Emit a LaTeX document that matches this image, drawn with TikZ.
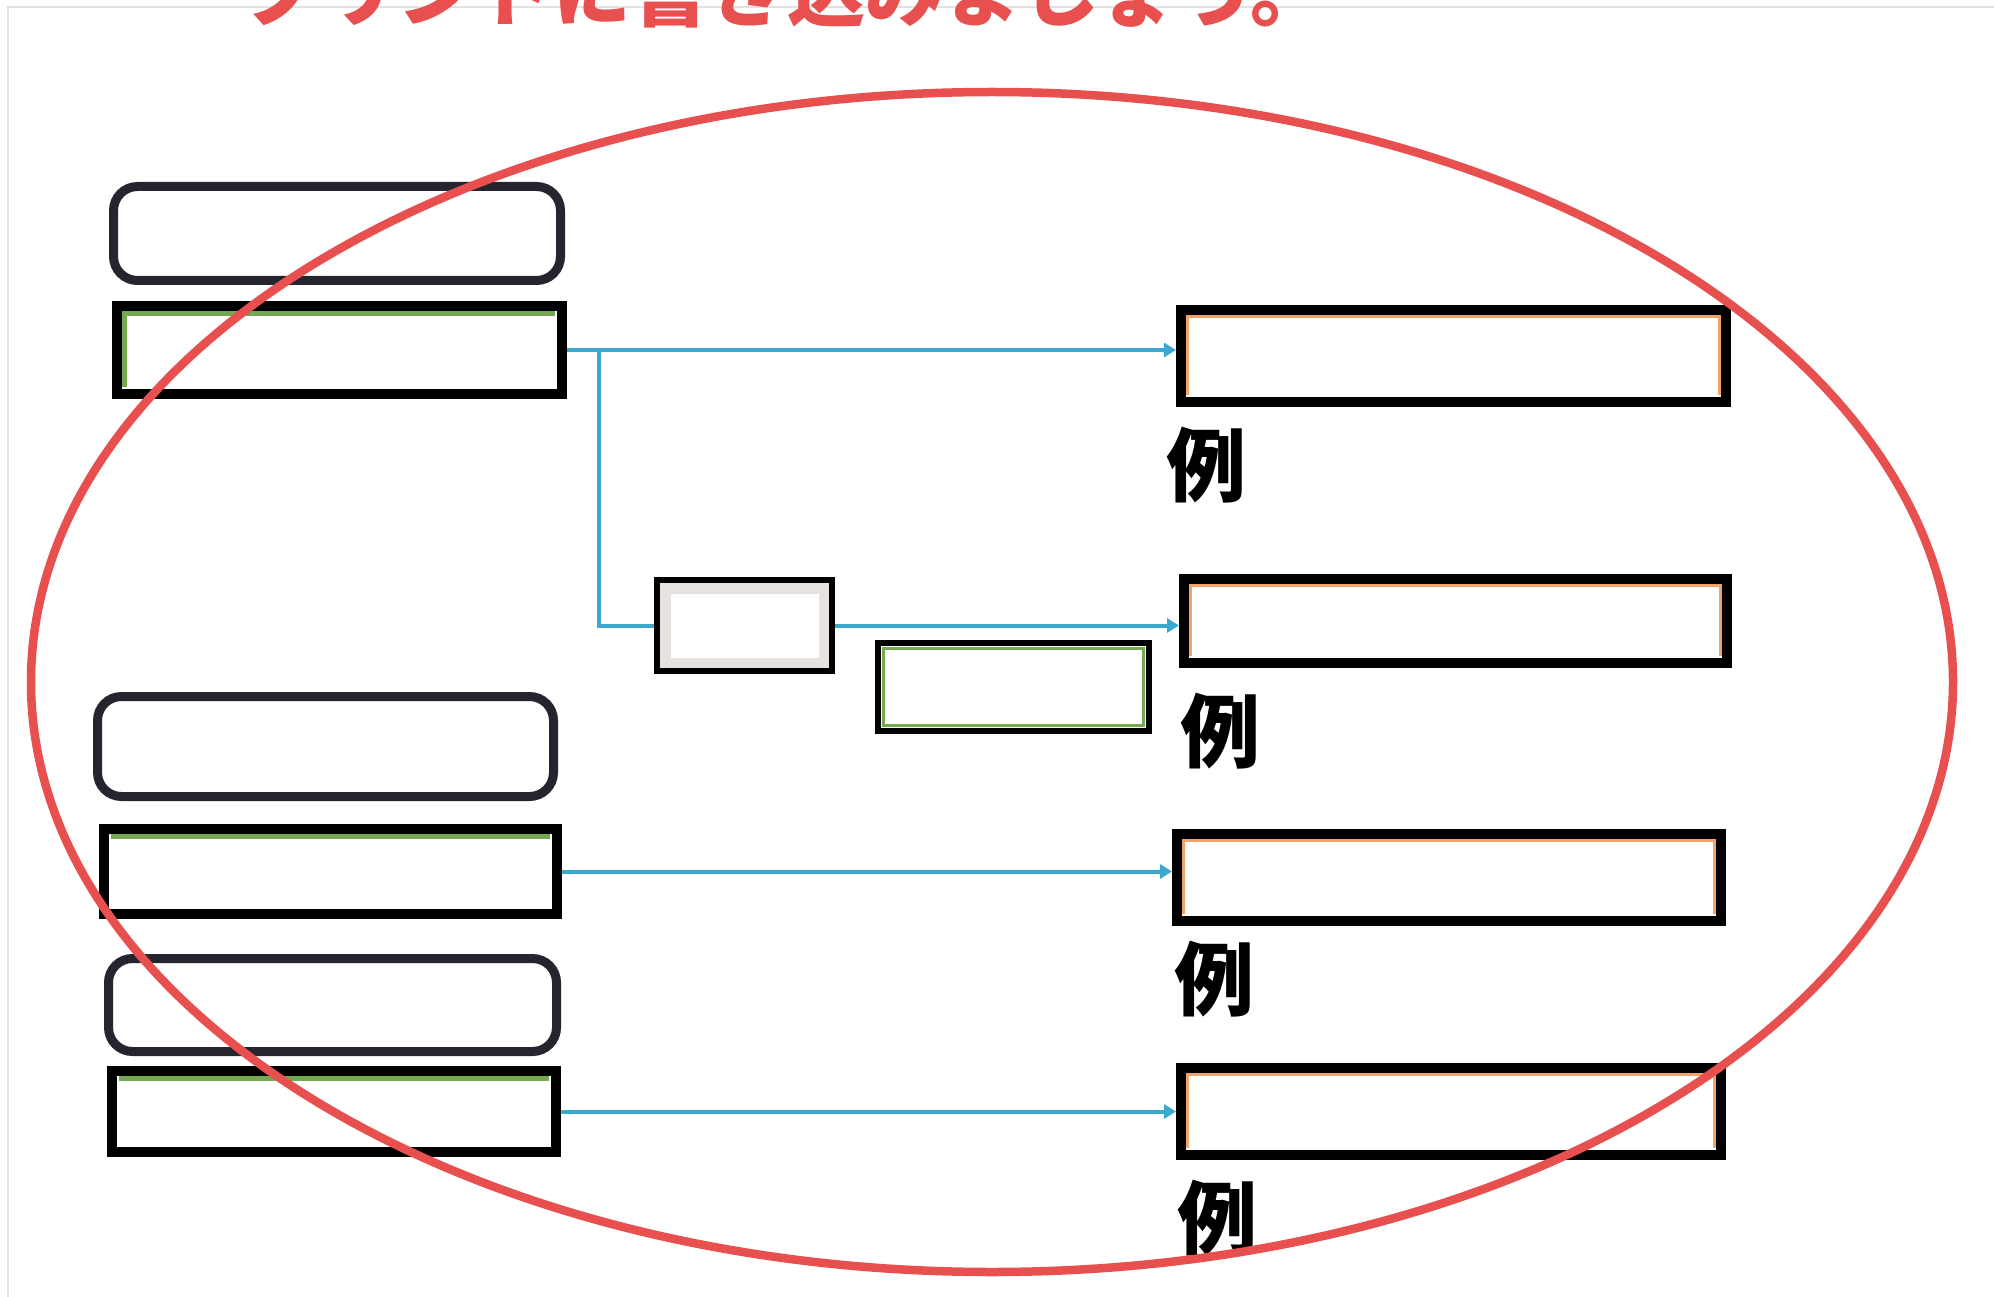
\documentclass[tikz,border=0pt]{standalone}
\usepackage{fontspec}
\newfontfamily\cjk{Noto Sans CJK JP}
\usetikzlibrary{arrows.meta}
\definecolor{navy}{HTML}{25252F}
\definecolor{lblue}{HTML}{3AA8CF}
\definecolor{redl}{HTML}{E8504F}
\definecolor{grn}{HTML}{74A852}
\definecolor{org}{HTML}{F2A36A}
\definecolor{lgray}{HTML}{E6E2DF}
\definecolor{framec}{HTML}{E2E2E2}
\tikzset{
  rbox/.style={draw=navy, line width=9pt, rounded corners=24pt, fill=white, inner sep=0pt},
  bbox/.style={draw=black, line width=10pt, fill=white, inner sep=0pt},
  greentop/.style={path picture={
      \draw[grn, line width=5pt]
        ([xshift=7pt]path picture bounding box.north west) ++(0pt,-7.5pt)
        -- ([xshift=-7pt,yshift=-7.5pt]path picture bounding box.north east);}},
  greentopleft/.style={path picture={
      \draw[grn, line width=5pt]
        ([xshift=7.5pt,yshift=7pt]path picture bounding box.south west)
        -- ([xshift=7.5pt,yshift=-7.5pt]path picture bounding box.north west)
        -- ([xshift=-7pt,yshift=-7.5pt]path picture bounding box.north east);}},
  greenall/.style={path picture={
      \draw[grn, line width=3pt]
        ([xshift=5.5pt,yshift=5.5pt]path picture bounding box.south west)
        rectangle ([xshift=-5.5pt,yshift=-5.5pt]path picture bounding box.north east);}},
  orangein/.style={path picture={
      \draw[org, line width=3pt]
        ([xshift=6.5pt,yshift=7pt]path picture bounding box.south west)
        -- ([xshift=6.5pt,yshift=-6.5pt]path picture bounding box.north west)
        -- ([xshift=-6.5pt,yshift=-6.5pt]path picture bounding box.north east)
        -- ([xshift=-6.5pt,yshift=7pt]path picture bounding box.south east);}},
  grayin/.style={path picture={
      \draw[lgray, line width=11pt]
        ([xshift=8pt,yshift=8pt]path picture bounding box.south west)
        rectangle ([xshift=-8pt,yshift=-8pt]path picture bounding box.north east);}},
  conn/.style={draw=lblue, line width=4pt},
  arr/.style={conn, -{Triangle[length=12pt,width=14pt]}},
  rei/.style={font=\cjk\bfseries\fontsize{80}{80}\selectfont, inner sep=0pt, text=black},
}
\begin{document}
\begin{tikzpicture}[x=1pt,y=-1pt]
\useasboundingbox (0,0) rectangle (1994,1297);
\clip (0,0) rectangle (1994,1297);
\fill[white] (0,0) rectangle (1994,1297);
\draw[framec, line width=2pt] (8,1297) -- (8,7) -- (1994,7);

\node[anchor=base west, text=redl, inner sep=0pt,
      font=\cjk\bfseries\fontsize{78}{78}\selectfont] (title) at (241,21) {プリントに書き込みましょう。};

% left rounded boxes
\node[rbox, minimum width=447pt, minimum height=94pt] (A1) at (337,233.5) {};
\node[rbox, minimum width=456pt, minimum height=100pt] (A2) at (325.5,746.5) {};
\node[rbox, minimum width=448pt, minimum height=93pt] (A3) at (332.5,1005) {};

% left black boxes
\node[bbox, greentopleft, minimum width=445pt, minimum height=88pt] (B1) at (339.5,350) {};
\node[bbox, greentop, minimum width=453pt, minimum height=85pt] (B2) at (330.5,871.5) {};
\node[bbox, greentop, minimum width=444pt, minimum height=81pt] (B3) at (334,1111.5) {};

% middle boxes
\node[draw=black, line width=6pt, fill=white, grayin, inner sep=0pt,
      minimum width=175pt, minimum height=91pt] (M) at (744.5,625.5) {};
\node[draw=black, line width=6pt, fill=white, greenall, inner sep=0pt,
      minimum width=271pt, minimum height=88pt] (G) at (1013.5,687) {};

% right boxes
\node[bbox, orangein, minimum width=545pt, minimum height=92pt] (R1) at (1453.5,356) {};
\node[bbox, orangein, minimum width=543pt, minimum height=84pt] (R2) at (1455.5,621) {};
\node[bbox, orangein, minimum width=544pt, minimum height=87pt] (R3) at (1449,877.5) {};
\node[bbox, orangein, minimum width=540pt, minimum height=87pt] (R4) at (1451,1111.5) {};

% labels
\node[rei] (L1) at (1206,465) {例};
\node[rei] (L2) at (1220,731) {例};
\node[rei] (L3) at (1214,979) {例};
\node[rei] (L4) at (1217,1218) {例};

% connectors
\coordinate (br) at (599,350);
\draw[arr] (B1.east) -- (B1.east -| R1.west);
\draw[conn] (br) |- (M.west);
\draw[arr] (M.east) -- (M.east -| R2.west);
\draw[arr] (B2.east) -- (B2.east -| R3.west);
\draw[arr] (B3.east) -- (B3.east -| R4.west);

% red ellipse
\draw[redl, line width=8.5pt] (992,682) ellipse [x radius=961, y radius=590];
\end{tikzpicture}
\end{document}
